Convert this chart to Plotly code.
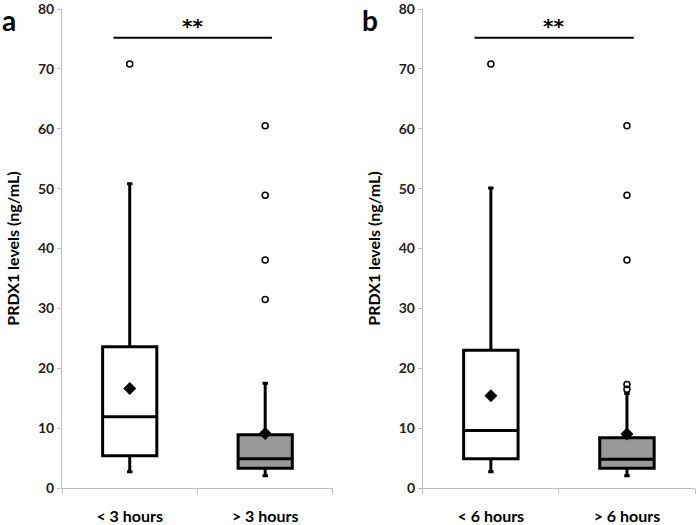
import plotly.graph_objects as go

# ---- data ----
cats_a = ["< 3 hours", "> 3 hours"]
cats_b = ["< 6 hours", "> 6 hours"]

q1_a = [5.4, 3.3]
median_a = [11.9, 4.9]
q3_a = [23.6, 8.9]
lower_a = [2.7, 2.05]
upper_a = [50.8, 17.5]
mean_a = [16.6, 9.1]
outliers_a = [[70.8], [60.5, 48.9, 38.1, 31.5]]

q1_b = [4.9, 3.3]
median_b = [9.6, 4.8]
q3_b = [23.0, 8.4]
lower_b = [2.7, 2.05]
upper_b = [50.1, 15.8]
mean_b = [15.4, 9.0]
outliers_b = [[70.8], [60.5, 48.9, 38.1, 17.3, 16.5]]

box_fills = ["white", "#999999"]
sig_label = "**"
sig_y = 75.2
y_ticks = [0, 10, 20, 30, 40, 50, 60, 70, 80]

FONT = "Lato"
AXIS_GREY = "#bfbfbf"

fig = go.Figure()


def add_panel(cats, q1, med, q3, lo, hi, means, outs, xa, ya):
    for i, c in enumerate(cats):
        fig.add_trace(go.Box(
            x=[c], q1=[q1[i]], median=[med[i]], q3=[q3[i]],
            lowerfence=[lo[i]], upperfence=[hi[i]],
            width=0.4, whiskerwidth=0.1, boxpoints=False,
            fillcolor=box_fills[i], line=dict(color="black", width=3),
            xaxis=xa, yaxis=ya, showlegend=False, hoverinfo="skip"))
        fig.add_trace(go.Scatter(
            x=[c] * len(outs[i]), y=outs[i], mode="markers",
            marker=dict(symbol="circle-open", size=6, color="black",
                        line=dict(width=1.5, color="black")),
            xaxis=xa, yaxis=ya, showlegend=False))
    fig.add_trace(go.Scatter(
        x=cats, y=means, mode="markers",
        marker=dict(symbol="diamond", size=10, color="black"),
        xaxis=xa, yaxis=ya, showlegend=False))


add_panel(cats_a, q1_a, median_a, q3_a, lower_a, upper_a, mean_a, outliers_a, "x", "y")
add_panel(cats_b, q1_b, median_b, q3_b, lower_b, upper_b, mean_b, outliers_b, "x2", "y2")

# significance bars
for xr, yr in (("x", "y"), ("x2", "y2")):
    fig.add_shape(type="line", xref=xr, yref=yr, x0=-0.12, x1=1.05,
                  y0=sig_y, y1=sig_y, line=dict(color="black", width=2))
    fig.add_annotation(xref=xr, yref=yr, x=0.46, y=sig_y, yshift=12,
                       text="<b>" + sig_label + "</b>", showarrow=False,
                       font=dict(family="DejaVu Sans", size=20, color="black"))

# panel letters
fig.add_annotation(xref="paper", yref="paper", x=-0.084, y=0.978,
                   text="<b>a</b>", showarrow=False, xanchor="center", yanchor="middle",
                   font=dict(family=FONT, size=28, color="black"))
fig.add_annotation(xref="paper", yref="paper", x=0.487, y=0.978,
                   text="<b>b</b>", showarrow=False, xanchor="center", yanchor="middle",
                   font=dict(family=FONT, size=28, color="black"))

xaxis_common = dict(
    type="category", range=[-0.5, 1.5], showline=True, linecolor=AXIS_GREY, linewidth=1,
    ticks="outside", ticklen=5, tickcolor=AXIS_GREY, tickson="boundaries",
    showgrid=False, zeroline=False, ticklabelstandoff=14, automargin=False,
    tickfont=dict(family=FONT, size=16, color="black", weight="bold"))
yaxis_common = dict(
    range=[0, 80], tickvals=y_ticks, showline=True, linecolor=AXIS_GREY, linewidth=1,
    ticks="outside", ticklen=4, tickcolor=AXIS_GREY, showgrid=False, zeroline=False,
    automargin=False, ticklabeloverflow="allow",
    tickfont=dict(family=FONT, size=14, color="#222222", weight="bold"),
    title=dict(text="<b>PRDX1 levels (ng/mL)</b>", standoff=14,
               font=dict(family=FONT, size=16, color="black")))

fig.update_layout(
    width=697, height=525,
    margin=dict(l=62, r=2, t=9, b=37),
    paper_bgcolor="white", plot_bgcolor="white",
    font=dict(family=FONT),
    xaxis=dict(domain=[0, 0.428], anchor="y", **xaxis_common),
    xaxis2=dict(domain=[0.570, 1], anchor="y2", **xaxis_common),
    yaxis=dict(anchor="x", **yaxis_common),
    yaxis2=dict(anchor="x2", **yaxis_common),
)

fig.write_html("out.html",
               config={"displayModeBar": False},
               post_script="document.body.style.margin='0px';"
                           "document.body.style.overflow='hidden';")
